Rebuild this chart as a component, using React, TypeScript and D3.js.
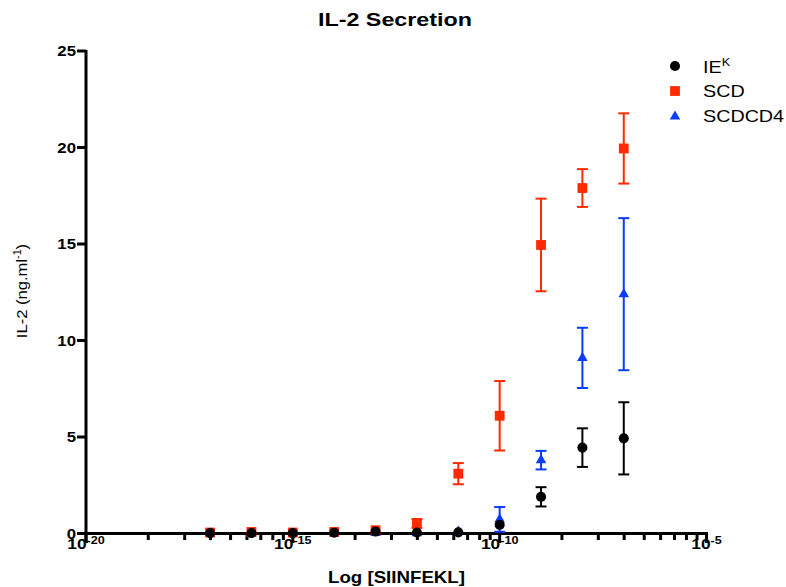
import React from 'react';
import * as d3 from 'd3';

// peptide concentration (M) for each measured point
const concentrations = [1e-17, 1e-16, 1e-15, 1e-14, 1e-13, 1e-12, 1e-11, 1e-10, 1e-9, 1e-8, 1e-7];

// IL-2 (ng/ml), mean and SEM per cell line
const iekMean = [0.02, 0.02, 0.02, 0.04, 0.1, 0.05, 0.06, 0.45, 1.9, 4.45, 4.93];
const iekSem = [0, 0, 0, 0, 0, 0, 0, 0, 0.5, 1.0, 1.87];
const scdMean = [0.05, 0.08, 0.05, 0.08, 0.17, 0.52, 3.1, 6.1, 14.95, 17.9, 19.95];
const scdSem = [0, 0, 0, 0, 0, 0.23, 0.55, 1.8, 2.4, 0.98, 1.82];
const scdcd4Mean = [0.01, 0.01, 0.01, 0.02, 0.03, 0.02, 0.1, 0.73, 3.8, 9.1, 12.4];
const scdcd4Sem = [0, 0, 0, 0, 0, 0, 0, 0.64, 0.48, 1.56, 3.94];

const yTicks = [0, 5, 10, 15, 20, 25];
const xMajorExponents = [-20, -15, -10, -5];

const RED = '#ff2a00';
const BLUE = '#0a3cff';
const FONT = '"Liberation Sans", Arial, sans-serif';

const x = d3.scaleLog().domain([1e-20, 1e-5]).range([86, 706.5]);
const y = d3.scaleLinear().domain([0, 25]).range([533.5, 51]);

// minor ticks spaced like 2..9 between each pair of labelled decades
const minorTicks: number[] = [];
for (let i = 0; i < xMajorExponents.length - 1; i++) {
  const a = xMajorExponents[i], b = xMajorExponents[i + 1];
  for (let k = 2; k <= 9; k++) minorTicks.push(Math.pow(10, a + (b - a) * Math.log10(k)));
}

const series = [
  { key: 'scdcd4', mean: scdcd4Mean, sem: scdcd4Sem, color: BLUE, shape: d3.symbolTriangle, size: 48 },
  { key: 'scd', mean: scdMean, sem: scdSem, color: RED, shape: d3.symbolSquare, size: 96 },
  { key: 'iek', mean: iekMean, sem: iekSem, color: '#000', shape: d3.symbolCircle, size: 80 },
];

const sym = (shape: d3.SymbolType, size: number) => d3.symbol().type(shape).size(size)() as string;

export default function App() {
  return (
    <svg width={786} height={587} style={{ position: 'absolute', left: 0, top: 0, background: '#fff' }}
      fontFamily={FONT}>
      {/* title */}
      <text x={318} y={26} textLength={154} lengthAdjust="spacingAndGlyphs" fontSize={17.5} fontWeight="bold">
        IL-2 Secretion
      </text>

      {/* y axis */}
      <line x1={86} x2={86} y1={y(25) - 1} y2={543} stroke="#000" strokeWidth={3} />
      {yTicks.map((t) => (
        <g key={t}>
          <line x1={77} x2={86} y1={y(t)} y2={y(t)} stroke="#000" strokeWidth={3} />
          <text transform={`translate(76,${y(t) + 5}) scale(1.2,1)`} textAnchor="end" fontSize={14}
            fontWeight="bold">{t}</text>
        </g>
      ))}
      <text transform="translate(26.5,291) rotate(-90) scale(1.07,1)" textAnchor="middle" fontSize={15.5}>
        IL-2 (ng.ml<tspan fontSize={10} dy={-6}>-1</tspan><tspan dy={6}>)</tspan>
      </text>

      {/* x axis */}
      <line x1={84.5} x2={708} y1={533.5} y2={533.5} stroke="#000" strokeWidth={3} />
      {xMajorExponents.map((e) => (
        <g key={e}>
          <line x1={x(Math.pow(10, e))} x2={x(Math.pow(10, e))} y1={533.5} y2={543} stroke="#000" strokeWidth={3} />
          <text transform={`translate(${x(Math.pow(10, e))},549) scale(1.2,1)`} textAnchor="middle"
            fontSize={14.5} fontWeight="bold">
            10<tspan fontSize={10.5} dy={-5}>{e}</tspan>
          </text>
        </g>
      ))}
      {minorTicks.map((v, i) => (
        <line key={i} x1={x(v)} x2={x(v)} y1={533.5} y2={540} stroke="#000" strokeWidth={3} />
      ))}
      <text x={328} y={583} textLength={137} lengthAdjust="spacingAndGlyphs" fontSize={17} fontWeight="bold">
        Log [SIINFEKL]
      </text>

      {/* data */}
      {series.map((s) => (
        <g key={s.key}>
          {concentrations.map((c, i) => {
            if (!(s.sem[i] > 0)) return null;
            const cx = x(c), top = y(s.mean[i] + s.sem[i]), bot = y(s.mean[i] - s.sem[i]);
            return (
              <g key={i} stroke={s.color} strokeWidth={2}>
                <line x1={cx} x2={cx} y1={top} y2={bot} />
                <line x1={cx - 5.5} x2={cx + 5.5} y1={top} y2={top} />
                <line x1={cx - 5.5} x2={cx + 5.5} y1={bot} y2={bot} />
              </g>
            );
          })}
          {concentrations.map((c, i) => (
            <path key={i} d={sym(s.shape, s.size)} transform={`translate(${x(c)},${y(s.mean[i])})`} fill={s.color} />
          ))}
        </g>
      ))}

      {/* legend */}
      <path d={sym(d3.symbolCircle, 80)} transform="translate(675,66)" fill="#000" />
      <text transform="translate(703,73) scale(1.16,1)" fontSize={17}>
        IE<tspan fontSize={11} dy={-7}>K</tspan>
      </text>
      <path d={sym(d3.symbolSquare, 96)} transform="translate(675,91)" fill={RED} />
      <text transform="translate(703,97) scale(1.16,1)" fontSize={17}>SCD</text>
      <path d={sym(d3.symbolTriangle, 48)} transform="translate(675,116.5)" fill={BLUE} />
      <text transform="translate(703,122) scale(1.16,1)" fontSize={17}>SCDCD4</text>
    </svg>
  );
}
